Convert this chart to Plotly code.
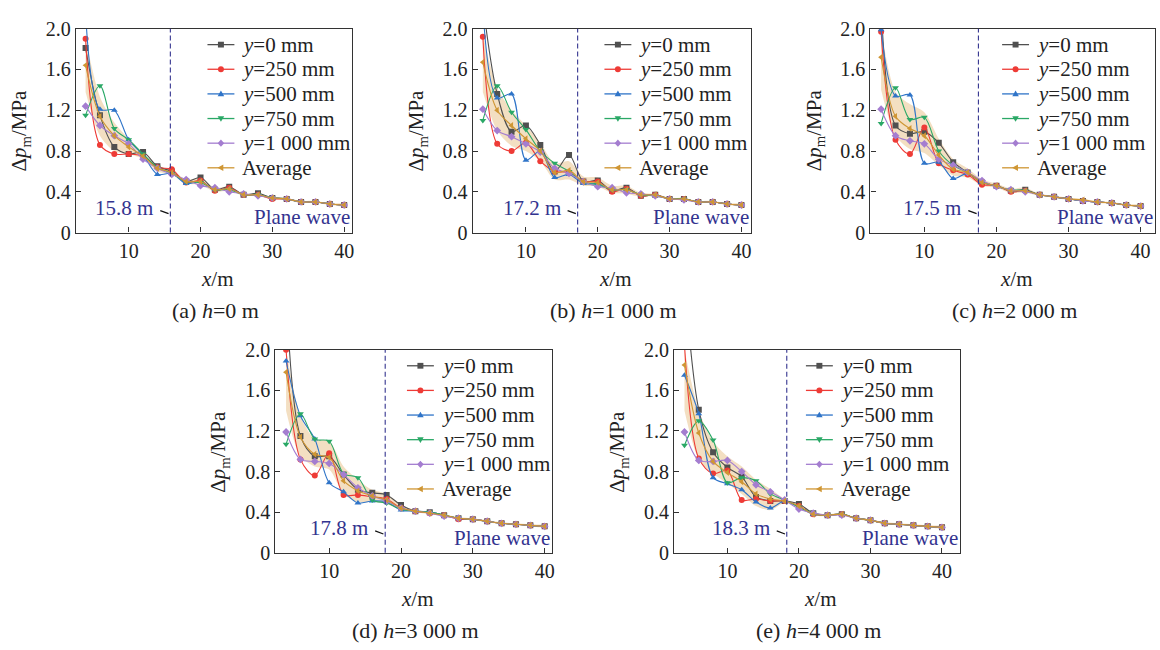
import plotly.graph_objects as go

# ---------------- data ----------------
x_pos = [4, 6, 8, 10, 12, 14, 16, 18, 20, 22, 24, 26, 28, 30, 32, 34, 36, 38, 40]

series_names = ["<i>y</i>=0 mm", "<i>y</i>=250 mm", "<i>y</i>=500 mm",
                "<i>y</i>=750 mm", "<i>y</i>=1 000 mm", "Average"]

# panel (a) h = 0 m
a_y0 = [1.81, 1.15, 0.84, 0.77, 0.79, 0.65, 0.60, 0.50, 0.54, 0.42, 0.45, 0.37, 0.385, 0.34, 0.33, 0.30, 0.30, 0.28, 0.27]
a_y250 = [1.90, 0.86, 0.77, 0.77, 0.75, 0.64, 0.62, 0.49, 0.51, 0.41, 0.44, 0.37, 0.37, 0.33, 0.33, 0.30, 0.30, 0.28, 0.27]
a_y500 = [2.15, 1.21, 1.20, 0.91, 0.76, 0.57, 0.58, 0.48, 0.50, 0.42, 0.43, 0.37, 0.37, 0.34, 0.33, 0.30, 0.30, 0.28, 0.27]
a_y750 = [1.15, 1.44, 1.02, 0.91, 0.77, 0.64, 0.58, 0.50, 0.49, 0.42, 0.42, 0.37, 0.37, 0.34, 0.33, 0.30, 0.30, 0.28, 0.27]
a_y1000 = [1.24, 1.05, 0.95, 0.87, 0.72, 0.63, 0.57, 0.52, 0.46, 0.44, 0.40, 0.38, 0.36, 0.34, 0.33, 0.30, 0.30, 0.28, 0.27]
a_avg = [1.64, 1.14, 0.95, 0.84, 0.75, 0.63, 0.59, 0.50, 0.50, 0.42, 0.43, 0.37, 0.37, 0.34, 0.33, 0.30, 0.30, 0.28, 0.27]
a_upper = [1.90, 1.33, 1.08, 0.92, 0.78, 0.66, 0.61, 0.52, 0.53, 0.44, 0.45, 0.38, 0.38, 0.35, 0.34, 0.31, 0.31, 0.29, 0.28]
a_lower = [1.38, 0.95, 0.80, 0.77, 0.72, 0.60, 0.57, 0.48, 0.47, 0.40, 0.41, 0.36, 0.36, 0.33, 0.32, 0.29, 0.29, 0.27, 0.26]

# panel (b) h = 1 000 m
b_y0 = [2.25, 1.36, 0.99, 1.05, 0.86, 0.60, 0.76, 0.50, 0.51, 0.41, 0.44, 0.36, 0.37, 0.33, 0.33, 0.30, 0.30, 0.28, 0.27]
b_y250 = [1.92, 0.87, 0.80, 0.88, 0.70, 0.60, 0.59, 0.50, 0.50, 0.40, 0.43, 0.36, 0.37, 0.33, 0.33, 0.30, 0.30, 0.28, 0.27]
b_y500 = [2.20, 1.32, 1.36, 0.71, 0.80, 0.54, 0.57, 0.48, 0.48, 0.42, 0.42, 0.37, 0.37, 0.33, 0.33, 0.30, 0.30, 0.28, 0.27]
b_y750 = [1.10, 1.44, 1.18, 1.01, 0.80, 0.68, 0.60, 0.49, 0.47, 0.42, 0.42, 0.37, 0.36, 0.33, 0.33, 0.30, 0.30, 0.28, 0.27]
b_y1000 = [1.21, 1.00, 0.94, 0.87, 0.79, 0.63, 0.58, 0.50, 0.45, 0.44, 0.39, 0.38, 0.36, 0.33, 0.32, 0.30, 0.30, 0.28, 0.27]
b_avg = [1.67, 1.20, 1.05, 0.92, 0.80, 0.59, 0.61, 0.50, 0.49, 0.42, 0.42, 0.37, 0.37, 0.33, 0.33, 0.30, 0.30, 0.28, 0.27]
b_upper = [1.95, 1.42, 1.20, 1.05, 0.88, 0.68, 0.70, 0.55, 0.54, 0.46, 0.46, 0.39, 0.38, 0.34, 0.34, 0.31, 0.31, 0.29, 0.28]
b_lower = [1.38, 1.00, 0.85, 0.80, 0.70, 0.52, 0.52, 0.46, 0.45, 0.39, 0.38, 0.35, 0.36, 0.32, 0.32, 0.29, 0.29, 0.27, 0.26]

# panel (c) h = 2 000 m
c_y0 = [2.25, 1.05, 0.97, 0.99, 0.88, 0.69, 0.59, 0.49, 0.46, 0.41, 0.42, 0.37, 0.35, 0.33, 0.31, 0.30, 0.29, 0.27, 0.26]
c_y250 = [1.97, 0.91, 0.77, 1.03, 0.68, 0.61, 0.57, 0.47, 0.46, 0.40, 0.41, 0.37, 0.35, 0.33, 0.31, 0.30, 0.29, 0.27, 0.26]
c_y500 = [1.99, 1.34, 1.35, 0.68, 0.69, 0.53, 0.58, 0.49, 0.46, 0.41, 0.41, 0.37, 0.35, 0.33, 0.31, 0.30, 0.29, 0.27, 0.26]
c_y750 = [1.07, 1.42, 1.11, 1.13, 0.80, 0.66, 0.59, 0.50, 0.45, 0.42, 0.41, 0.37, 0.35, 0.33, 0.31, 0.30, 0.29, 0.27, 0.26]
c_y1000 = [1.21, 0.95, 0.90, 0.87, 0.72, 0.66, 0.59, 0.51, 0.45, 0.42, 0.40, 0.37, 0.35, 0.33, 0.31, 0.30, 0.29, 0.27, 0.26]
c_avg = [1.72, 1.14, 1.02, 0.95, 0.76, 0.62, 0.59, 0.49, 0.46, 0.41, 0.41, 0.37, 0.35, 0.33, 0.32, 0.30, 0.29, 0.27, 0.26]
c_upper = [2.00, 1.38, 1.26, 1.18, 0.92, 0.72, 0.63, 0.52, 0.48, 0.43, 0.44, 0.38, 0.36, 0.34, 0.33, 0.31, 0.30, 0.28, 0.27]
c_lower = [1.40, 0.95, 0.82, 0.78, 0.66, 0.56, 0.54, 0.46, 0.44, 0.39, 0.39, 0.36, 0.34, 0.32, 0.31, 0.29, 0.28, 0.26, 0.25]

# panel (d) h = 3 000 m
d_y0 = [2.60, 1.15, 0.95, 0.95, 0.77, 0.62, 0.59, 0.57, 0.47, 0.41, 0.40, 0.37, 0.34, 0.33, 0.31, 0.29, 0.28, 0.27, 0.26]
d_y250 = [2.00, 0.92, 0.76, 0.98, 0.57, 0.57, 0.55, 0.53, 0.44, 0.41, 0.39, 0.37, 0.33, 0.33, 0.31, 0.29, 0.28, 0.27, 0.26]
d_y500 = [1.89, 1.35, 1.12, 0.69, 0.60, 0.49, 0.51, 0.50, 0.42, 0.41, 0.40, 0.37, 0.34, 0.33, 0.31, 0.29, 0.28, 0.27, 0.26]
d_y750 = [1.07, 1.37, 1.12, 1.10, 0.78, 0.74, 0.52, 0.49, 0.43, 0.41, 0.40, 0.37, 0.34, 0.33, 0.31, 0.29, 0.28, 0.27, 0.26]
d_y1000 = [1.19, 0.92, 0.90, 0.88, 0.77, 0.64, 0.56, 0.51, 0.44, 0.41, 0.39, 0.36, 0.34, 0.33, 0.31, 0.29, 0.28, 0.27, 0.26]
d_avg = [1.78, 1.14, 0.97, 0.94, 0.71, 0.61, 0.56, 0.52, 0.44, 0.41, 0.39, 0.37, 0.34, 0.33, 0.31, 0.29, 0.28, 0.27, 0.26]
d_upper = [2.00, 1.35, 1.12, 1.10, 0.85, 0.72, 0.62, 0.58, 0.47, 0.42, 0.40, 0.38, 0.35, 0.34, 0.32, 0.30, 0.29, 0.28, 0.27]
d_lower = [1.40, 0.95, 0.85, 0.82, 0.58, 0.50, 0.50, 0.48, 0.42, 0.40, 0.38, 0.36, 0.33, 0.32, 0.30, 0.28, 0.27, 0.26, 0.25]

# panel (e) h = 4 000 m
e_y0 = [2.70, 1.41, 0.99, 0.84, 0.75, 0.55, 0.51, 0.51, 0.48, 0.39, 0.37, 0.38, 0.34, 0.32, 0.29, 0.28, 0.27, 0.26, 0.25]
e_y250 = [2.05, 0.93, 0.78, 0.81, 0.52, 0.53, 0.51, 0.51, 0.46, 0.38, 0.37, 0.38, 0.34, 0.32, 0.29, 0.28, 0.27, 0.26, 0.25]
e_y500 = [1.75, 1.37, 0.74, 0.68, 0.62, 0.50, 0.44, 0.51, 0.45, 0.38, 0.37, 0.38, 0.34, 0.32, 0.29, 0.28, 0.27, 0.26, 0.25]
e_y750 = [1.06, 1.30, 1.11, 0.69, 0.74, 0.71, 0.58, 0.52, 0.45, 0.39, 0.37, 0.38, 0.34, 0.32, 0.29, 0.28, 0.27, 0.26, 0.25]
e_y1000 = [1.19, 0.91, 0.90, 0.91, 0.80, 0.67, 0.60, 0.52, 0.43, 0.39, 0.37, 0.37, 0.34, 0.32, 0.29, 0.28, 0.27, 0.26, 0.25]
e_avg = [1.85, 1.18, 0.90, 0.79, 0.70, 0.58, 0.53, 0.51, 0.46, 0.38, 0.37, 0.38, 0.34, 0.32, 0.29, 0.28, 0.27, 0.26, 0.25]
e_upper = [2.00, 1.40, 1.10, 0.95, 0.85, 0.72, 0.63, 0.53, 0.48, 0.40, 0.38, 0.39, 0.35, 0.33, 0.30, 0.29, 0.28, 0.27, 0.26]
e_lower = [1.40, 0.92, 0.78, 0.68, 0.58, 0.46, 0.42, 0.49, 0.44, 0.37, 0.36, 0.37, 0.33, 0.31, 0.28, 0.27, 0.26, 0.25, 0.24]

captions = ["(a) <i>h</i>=0 m", "(b) <i>h</i>=1 000 m", "(c) <i>h</i>=2 000 m",
            "(d) <i>h</i>=3 000 m", "(e) <i>h</i>=4 000 m"]
transition = [15.8, 17.2, 17.5, 17.8, 18.3]
y_ticks = [0, 0.4, 0.8, 1.2, 1.6, 2.0]
y_tick_text = ["0", "0.4", "0.8", "1.2", "1.6", "2.0"]
x_ticks = [10, 20, 30, 40]

panel_series = [
    [a_y0, a_y250, a_y500, a_y750, a_y1000, a_avg],
    [b_y0, b_y250, b_y500, b_y750, b_y1000, b_avg],
    [c_y0, c_y250, c_y500, c_y750, c_y1000, c_avg],
    [d_y0, d_y250, d_y500, d_y750, d_y1000, d_avg],
    [e_y0, e_y250, e_y500, e_y750, e_y1000, e_avg],
]
panel_bands = [(a_upper, a_lower), (b_upper, b_lower), (c_upper, c_lower),
               (d_upper, d_lower), (e_upper, e_lower)]

# ---------------- style / layout ----------------
W, H = 1160, 650
FONT = "Liberation Serif"
colors = ["#505050", "#ee3b36", "#2f74c8", "#2aa866", "#a47dd0", "#cf9634"]
symbols = ["square", "circle", "triangle-up", "triangle-down", "diamond", "triangle-left"]
NAVY = "#33338f"
TXT = "#222222"

# plot boxes in pixels: (left, right, top, bottom), x range
boxes = [
    ((76, 353, 18.3, 229.3), (2.64, 41.1)),
    ((474, 752.7, 18.3, 229.3), (2.6, 41.3)),
    ((872.7, 1158, 18.3, 229.3), (2.52, 42.0)),
    ((276, 553.3, 350.7, 560.7), (2.5, 41.0)),
    ((676, 962, 350.7, 560.7), (2.57, 42.45)),
]


def px(xp):
    return xp / W


def py(yp):
    return 1 - yp / H


def marker_shape(sym, cx, cy, s, col):
    """Legend sample marker as a shape, in paper coordinates (pixel input)."""
    if sym == "square":
        return dict(type="rect", xref="paper", yref="paper", x0=px(cx - s), x1=px(cx + s),
                    y0=py(cy + s), y1=py(cy - s), fillcolor=col, line=dict(width=0))
    if sym == "circle":
        return dict(type="circle", xref="paper", yref="paper", x0=px(cx - s), x1=px(cx + s),
                    y0=py(cy + s), y1=py(cy - s), fillcolor=col, line=dict(width=0))
    if sym == "triangle-up":
        pts = [(cx, cy - s * 1.15), (cx + s * 1.1, cy + s * 0.8), (cx - s * 1.1, cy + s * 0.8)]
    elif sym == "triangle-down":
        pts = [(cx, cy + s * 1.15), (cx + s * 1.1, cy - s * 0.8), (cx - s * 1.1, cy - s * 0.8)]
    elif sym == "triangle-left":
        pts = [(cx - s * 1.15, cy), (cx + s * 0.8, cy - s * 1.1), (cx + s * 0.8, cy + s * 1.1)]
    else:  # diamond
        pts = [(cx, cy - s * 1.25), (cx + s * 1.1, cy), (cx, cy + s * 1.25), (cx - s * 1.1, cy)]
    path = "M " + " L ".join(f"{px(a):.5f},{py(b):.5f}" for a, b in pts) + " Z"
    return dict(type="path", xref="paper", yref="paper", path=path,
                fillcolor=col, line=dict(width=0))


fig = go.Figure()
layout = dict(
    width=W, height=H,
    margin=dict(l=0, r=0, t=0, b=0),
    paper_bgcolor="white", plot_bgcolor="white",
    font=dict(family=FONT, size=20, color=TXT),
    showlegend=False,
)
annotations = []
shapes = []

for i, ((l, r, t, b), xr) in enumerate(boxes):
    n = i + 1
    xa = "x" if n == 1 else f"x{n}"
    ya = "y" if n == 1 else f"y{n}"
    up, lo = panel_bands[i]
    # shaded band
    fig.add_trace(go.Scatter(
        x=x_pos + x_pos[::-1], y=up + lo[::-1], xaxis=xa, yaxis=ya,
        fill="toself", fillcolor="rgba(226,178,110,0.42)",
        line=dict(width=0, shape="spline", smoothing=0.8),
        mode="lines", hoverinfo="skip"))
    for k, (name, col, sym) in enumerate(zip(series_names, colors, symbols)):
        fig.add_trace(go.Scatter(
            x=x_pos, y=panel_series[i][k], xaxis=xa, yaxis=ya,
            mode="lines+markers", name=name,
            line=dict(color=col, width=1.1, shape="spline", smoothing=0.9),
            marker=dict(symbol=sym, size=6, color=col, line=dict(width=0)),
        ))
    axkey_x = "xaxis" if n == 1 else f"xaxis{n}"
    axkey_y = "yaxis" if n == 1 else f"yaxis{n}"
    layout[axkey_x] = dict(
        domain=[l / W, r / W], anchor=ya, range=list(xr),
        tickvals=x_ticks, ticks="inside", ticklen=5, tickwidth=1.2,
        tickcolor="#333", showline=True, linecolor="#333", linewidth=1.3,
        mirror=True, showgrid=False, zeroline=False,
        tickfont=dict(family=FONT, size=20, color=TXT),
    )
    layout[axkey_y] = dict(
        domain=[1 - b / H, 1 - t / H], anchor=xa, range=[0, 2.0],
        tickvals=y_ticks, ticktext=y_tick_text, ticks="inside", ticklen=5,
        tickwidth=1.2, tickcolor="#333", showline=True, linecolor="#333",
        linewidth=1.3, mirror=True, showgrid=False, zeroline=False,
        tickfont=dict(family=FONT, size=20, color=TXT),
    )

    # manual legend
    lx = l + 132
    for k, (name, col, sym) in enumerate(zip(series_names, colors, symbols)):
        cy = t + 16.5 + k * 25.5
        shapes.append(dict(type="line", xref="paper", yref="paper",
                           x0=px(lx), x1=px(lx + 27), y0=py(cy), y1=py(cy),
                           line=dict(color=col, width=1.3)))
        shapes.append(marker_shape(sym, lx + 13.5, cy, 3.0, col))
        annotations.append(dict(x=px(lx + 33), y=py(cy), xref="paper", yref="paper",
                                text=name, showarrow=False, xanchor="left", yanchor="middle",
                                font=dict(family=FONT, size=21, color=TXT)))

    xv = transition[i]
    # vertical dashed line
    shapes.append(dict(type="line", xref=xa, yref=f"{ya} domain", x0=xv, x1=xv,
                       y0=0, y1=1, line=dict(color=NAVY, width=1.1, dash="5px,3px")))
    # leader tick
    shapes.append(dict(type="line", xref=xa, yref=ya, x0=xv - 1.4, x1=xv - 0.25,
                       y0=0.215, y1=0.185, line=dict(color="#111", width=1.2)))
    annotations.append(dict(x=xv - 2.1, y=0.24, xref=xa, yref=ya,
                            text=f"{xv} m", showarrow=False, xanchor="right",
                            yanchor="middle", font=dict(family=FONT, size=21, color=NAVY)))
    annotations.append(dict(x=1, y=0.15, xref=f"{xa} domain", yref=ya,
                            text="Plane wave", showarrow=False, xanchor="right",
                            yanchor="middle", font=dict(family=FONT, size=21, color=NAVY)))
    # axis titles
    annotations.append(dict(x=px((l + r) / 2 + 4), y=py(b + 48), xref="paper", yref="paper",
                            text="<i>x</i>/m", showarrow=False, xanchor="center",
                            yanchor="middle", font=dict(family=FONT, size=21, color=TXT)))
    annotations.append(dict(x=px(l - 56), y=py((t + b) / 2), xref="paper", yref="paper",
                            text="Δ<i>p</i><sub>m</sub>/MPa", showarrow=False, textangle=-90,
                            xanchor="center", yanchor="middle",
                            font=dict(family=FONT, size=21, color=TXT)))
    # caption
    annotations.append(dict(x=px((l + r) / 2 + 2), y=py(b + 81), xref="paper", yref="paper",
                            text=captions[i], showarrow=False, xanchor="center",
                            yanchor="middle", font=dict(family=FONT, size=22, color=TXT)))

layout["annotations"] = annotations
layout["shapes"] = shapes
fig.update_layout(**layout)
fig.write_html("out.html")
